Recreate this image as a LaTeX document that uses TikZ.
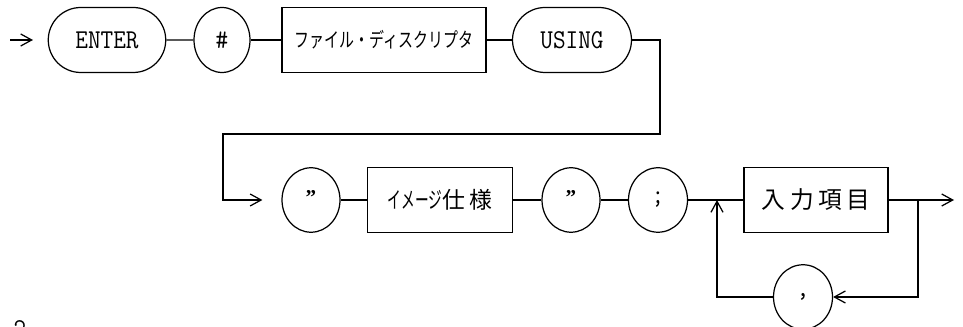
\documentclass[tikz,border=0pt]{standalone}
\usepackage{fontspec}
\setmainfont{Liberation Serif}
\newfontfamily\jp{Noto Sans CJK JP}
\usetikzlibrary{shapes.misc,shapes.geometric,arrows.meta}
\newcommand\lat[1]{\scalebox{0.9}[1]{\ttfamily\fontsize{15.5}{16}\selectfont #1}}
\tikzset{
  line/.style={line width=0.7pt},
  arr/.style={line, -{Straight Barb[length=2.2mm,width=2.4mm]}},
  stadium/.style={draw, line width=0.7pt, rounded rectangle, minimum width=2.35cm, minimum height=1.3cm, inner sep=0pt},
  oval/.style={draw, line width=0.7pt, ellipse, minimum width=1.16cm, minimum height=1.29cm, inner sep=0pt},
  sbox/.style={draw, line width=0.7pt, rectangle, minimum height=1.29cm, inner sep=0pt},
}
\begin{document}
\begin{tikzpicture}[x=0.02cm, y=-0.02cm]
\useasboundingbox (0,0) rectangle (963,327);
% row 1
\coordinate (start) at (10,40);
\coordinate (starttip) at (33,40);
\node[stadium] (enter) at (107,40) {\lat{ENTER}};
\node[oval, minimum height=1.3cm, minimum width=1.12cm] (hash) at (222,40) {\lat{\#}};
\node[sbox, minimum width=4.08cm] (fd) at (384,40) {\jp\fontsize{11.5}{12}\selectfont\scalebox{0.74}[1]{ファイル・ディスクリプタ}};
\node[stadium, minimum width=2.38cm] (using) at (572,40) {\lat{USING}};
% row 2
\node[oval] (q1) at (311,200) {\raisebox{0.5ex}{\fontsize{12}{12}\selectfont\bfseries ”}};
\node[sbox, minimum width=2.9cm] (img) at (440,200) {\jp\fontsize{13}{13}\selectfont\scalebox{0.6}[1]{イメージ}仕\,様};
\node[oval] (q2) at (571,200) {\raisebox{0.5ex}{\fontsize{12}{12}\selectfont\bfseries ”}};
\node[oval, minimum width=1.18cm] (semi) at (658,200) {\lat{;}};
\node[sbox, minimum width=2.88cm, minimum height=1.3cm] (item) at (816,200) {\jp\fontsize{13.5}{14}\selectfont 入\hspace{2.5pt}力\hspace{2.5pt}項\hspace{2.5pt}目};
\node[oval, minimum width=1.18cm] (comma) at (803,297) {\lat{,}};
\coordinate (end) at (954,200);
\coordinate (ta) at (660,134);
\coordinate (tb) at (223,134);
\coordinate (j1) at (918,200);
\coordinate (j2) at (717,200);
% fragment of caption at bottom left
\node[anchor=north west, inner sep=0pt] (cap) at (-12,320) {\lat{0.2}};
% connectors
\draw[arr] (start) -- (starttip);
\draw[line] (enter) -- (hash);
\draw[line] (hash) -- (fd);
\draw[line] (fd) -- (using);
\draw[arr, shorten >=0.38cm] (using.east) -| (ta) -- (tb) |- (q1.west);
\draw[line] (q1) -- (img);
\draw[line] (img) -- (q2);
\draw[line] (q2) -- (semi);
\draw[line] (semi) -- (item);
\draw[arr] (item.east) -- (end);
\draw[arr] (j1) |- (comma.east);
\draw[arr] (comma.west) -| (j2);
\end{tikzpicture}
\end{document}
